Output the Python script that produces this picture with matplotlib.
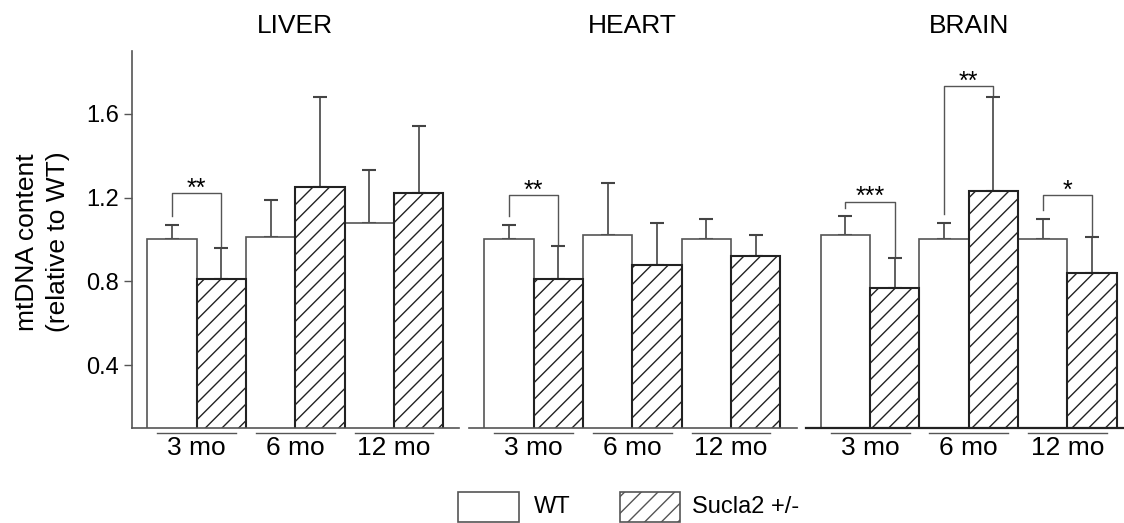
import numpy as np
import matplotlib
matplotlib.use('Agg')
import matplotlib.pyplot as plt
from matplotlib.patches import Rectangle
import matplotlib.transforms as mtransforms

plt.rcParams['font.family'] = ['Liberation Sans', 'DejaVu Sans']
plt.rcParams['hatch.linewidth'] = 1.0

# data
tissues = ['LIVER', 'HEART', 'BRAIN']
ages = ['3 mo', '6 mo', '12 mo']

wt_liver = [1.00, 1.01, 1.08]
wt_liver_err = [0.07, 0.18, 0.25]
suc_liver = [0.81, 1.25, 1.22]
suc_liver_err = [0.15, 0.43, 0.32]

wt_heart = [1.00, 1.02, 1.00]
wt_heart_err = [0.07, 0.25, 0.10]
suc_heart = [0.81, 0.88, 0.92]
suc_heart_err = [0.16, 0.20, 0.10]

wt_brain = [1.02, 1.00, 1.00]
wt_brain_err = [0.09, 0.08, 0.10]
suc_brain = [0.77, 1.23, 0.84]
suc_brain_err = [0.14, 0.45, 0.17]

# significance: (age index, stars, bracket level)
sig_liver = [(0, '**', 1.22)]
sig_heart = [(0, '**', 1.21)]
sig_brain = [(0, '***', 1.18), (1, '**', 1.73), (2, '*', 1.21)]

yticks = [0.4, 0.8, 1.2, 1.6]

panels = [
    (wt_liver, wt_liver_err, suc_liver, suc_liver_err, sig_liver),
    (wt_heart, wt_heart_err, suc_heart, suc_heart_err, sig_heart),
    (wt_brain, wt_brain_err, suc_brain, suc_brain_err, sig_brain),
]

W, H = 1124, 523
fig = plt.figure(figsize=(W / 100, H / 100), dpi=100)

# axes placement in pixels (left, width)
ax_px = [(132.3, 327.0), (469.3, 327.4), (805.7, 318.3)]
bottom = 94.7 / H
height = 377.6 / H
px_per_unit = 98.67
bw = 0.5

for k, (name, (wt, wt_err, suc, suc_err, sigs)) in enumerate(zip(tissues, panels)):
    left, width = ax_px[k]
    ax = fig.add_axes([left / W, bottom, width / W, height])
    x = np.arange(len(ages))
    x0 = -0.5 - 15 / px_per_unit
    ax.set_xlim(x0, x0 + width / px_per_unit)
    ax.set_ylim(0.1, 1.9)

    ax.bar(x - bw / 2, wt, bw, color='white', edgecolor='#555555', linewidth=1.2, zorder=2)
    ax.bar(x + bw / 2, suc, bw, color='white', edgecolor='#222222', linewidth=1.5,
           hatch='//', zorder=2)
    ax.errorbar(x - bw / 2, wt, yerr=[np.zeros(len(wt)), wt_err], fmt='none',
                ecolor='#444444', elinewidth=1.2, capsize=5, capthick=1.5, zorder=1)
    ax.errorbar(x + bw / 2, suc, yerr=[np.zeros(len(suc)), suc_err], fmt='none',
                ecolor='#444444', elinewidth=1.2, capsize=5, capthick=1.5, zorder=1)

    # significance brackets
    for i, stars, level in sigs:
        xl, xr = i - bw / 2, i + bw / 2
        yl = wt[i] + wt_err[i] + 0.04
        yr = suc[i] + suc_err[i] + 0.01
        ax.plot([xl, xl, xr, xr], [yl, level, level, yr], color='#555555', lw=1.0)
        ax.text(i, level - 0.012, stars, ha='center', va='baseline', fontsize=18)

    # spines
    for s in ['top', 'right']:
        ax.spines[s].set_visible(False)
    ax.spines['bottom'].set_color('#555555' if k < 2 else '#222222')
    ax.spines['bottom'].set_linewidth(1.2 if k < 2 else 1.6)
    if k == 0:
        ax.spines['left'].set_color('#555555')
        ax.spines['left'].set_linewidth(1.2)
        ax.set_yticks(yticks)
        ax.set_yticklabels([f'{v:.1f}' for v in yticks], fontsize=17)
        ax.tick_params(axis='y', length=6, width=1.0, color='#555555', pad=3.5)
    else:
        ax.spines['left'].set_visible(False)
        ax.set_yticks([])
    ax.set_xticks([])

    # age labels with lines above
    trans = mtransforms.blended_transform_factory(ax.transData, ax.transAxes)
    for i, lab in enumerate(ages):
        ax.plot([i - 0.40, i + 0.40], [-5 / 377.6, -5 / 377.6], color='#555555', lw=1.0,
                transform=trans, clip_on=False)
        ax.text(i, -20 / 377.6, lab, ha='center', va='center', fontsize=19, transform=trans)

    # title over the middle group
    ax.text(1, 1 + 25 / 377.6, name, ha='center', va='center', fontsize=19, transform=trans)

# y label
fig.text(27 / W, (H - 242) / H, 'mtDNA content', rotation=90, ha='center', va='center', fontsize=19)
fig.text(58 / W, (H - 242) / H, '(relative to WT)', rotation=90, ha='center', va='center', fontsize=19)

# legend
fig.add_artist(Rectangle((458 / W, 1 / H), 61 / W, 30 / H, transform=fig.transFigure,
                         facecolor='white', edgecolor='#555555', lw=1.2))
fig.text(534 / W, (H - 507) / H, 'WT', ha='left', va='center', fontsize=17)
fig.add_artist(Rectangle((620 / W, 1 / H), 60 / W, 30 / H, transform=fig.transFigure,
                         facecolor='white', edgecolor='#555555', lw=1.2, hatch='//'))
fig.text(692 / W, (H - 507) / H, 'Sucla2 +/-', ha='left', va='center', fontsize=17)

fig.savefig('out.png', dpi=100)
